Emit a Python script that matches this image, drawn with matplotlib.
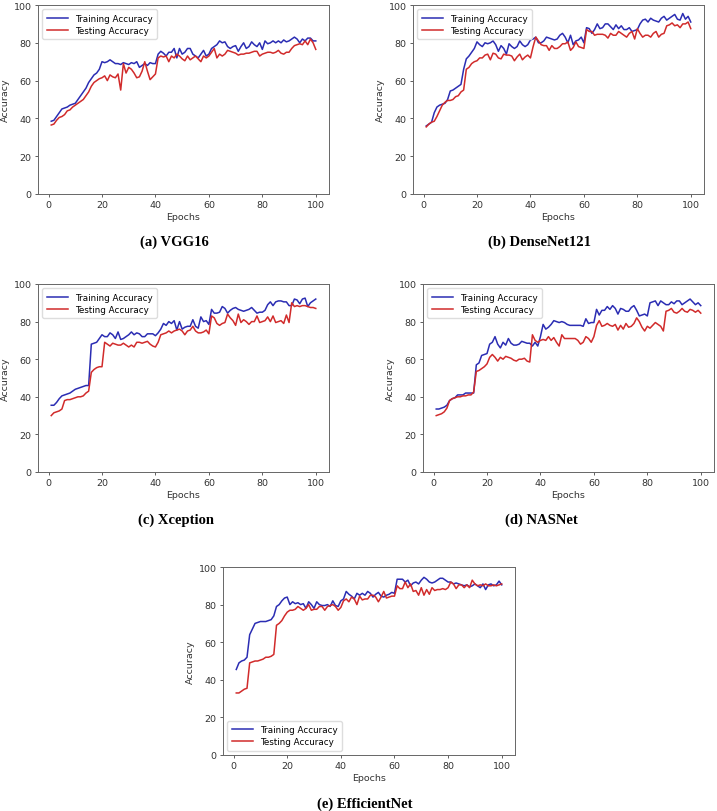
import matplotlib
matplotlib.use("Agg")
import matplotlib.pyplot as plt
import numpy as np

epochs = list(range(1, 101))

vgg_train = [38.5,39,41,43,45,45.5,46,47,47.5,48,50,52,54,56,59,61,63,64,66,70,
             69.5,70,71,70,69,69,68.5,69.5,69,68.5,69.5,69,70,67,68,69,68,69.5,69,69,
             74,75.5,74.5,73,75,75,77,72,77,74,75,77,77,74,73,72,74,76,73,74,
             77,78,79,81,80,80.5,78,77,78,78.5,75.5,78,80,77,78,80.5,79,78,80,76.5,
             81,79.5,80,81,80,81,80,81.5,80.5,81,82,83,82,80,82,81,82.5,82.5,81,81]
vgg_test = [36.5,37,39,40.5,41,42,44,44.5,46,47,48,49,50,52,54,57,59,60,61,61.5,
            62.5,60,63,62,61.5,63.5,55,69,64,67,66,64,61.5,62,65,70,65,60.5,62,63.5,
            72,73,72.5,73,70,73,72,74,73,71.5,70.5,73,71,72,73,71.5,70,73,72,73,
            75,77,72,74,73,74,76,75.5,75,74.5,73.5,74,74,74.5,74.5,75,75.5,75.5,73,74,
            74.5,75,75,74.5,75,76,74.5,74,75,75,77,78.5,79,79.5,79,81,79,82,80,76.5]

dense_train = [36,37,38,43,46,47,47.5,48,50,54.5,55,56,57,58,66,71.5,73,75,77,80.5,
               79,78,80,79.5,80,81,79,75.5,78.5,77,74,79.5,78,77,78,81,79,78,79,81.5,
               82,83,80,80,81,83,82.5,82,81.5,82,84,85,83,80,84,79,81,81.5,83,80,
               88,87.5,85,87,90,87.5,88,90,90,88.5,87,89.5,87.5,89,87,87,88,86,86.5,87,
               90,92,92.5,91,93,92,91.5,91,93,94,92,93,94,95,92.5,92,95.5,92.5,94,91]
dense_test = [35.5,37,38,38.5,41,44,47,48.5,49.5,49.5,50,51.5,52,54,55,66,67,69,70,70.5,
              72,72,73.5,74,71,74.5,74,72,71.5,74,73.5,73.5,73,70.5,72.5,74,71,72.5,73.5,72,
              78,83,81,79,78.5,78.5,76,78.5,77,77,78,79.5,79.5,80.5,76,77.5,80.5,78,77.5,77,
              87,86,86,84,84.5,84.5,84.5,84,82.5,85,84,84,86,85,84,83,85,86,82,87.5,
              85,83,84,84,83,85,86,83,84.5,85,89,89.5,90.5,89,89.5,88,90,90,91,87.5]

xcep_train = [35.5,35.5,37,39,40.5,41,41.5,42,43,44,44.5,45,45.5,46,46,68,68.5,69,71,73,
              72,72,74,73,71,74.5,70.5,71,72,73,74.5,73,74,73.5,72,72,73.5,73.5,73.5,72.5,
              74,76,79,78,80,79,80.5,75.5,80,76,77,77.5,77.5,81,77.5,76.5,82.5,80,80.5,78.5,
              86.5,84.5,84.5,85,88,87,84.5,86,87,87.5,86.5,86,85.5,86,86.5,87.5,86,84.5,85,85,
              86,89,90.5,88.5,90.5,91,91,90.5,90.5,88.5,88.5,92,91.5,89.5,92,92.5,88,90,91,92]
xcep_test = [30,31.5,32,32.5,33.5,38,38.5,38.5,39,39.5,40,40,40.5,42,43,53,54.5,55.5,56,56,
             69,68,67,68.5,68,67.5,67.5,68.5,67.5,66.5,67.5,66.5,69,69,68.5,69,69.5,68,67,66.5,
             69,73,73.5,74,75,74,75,75.5,76,75,73,75,75.5,77.5,75,74,74,74.5,75.5,73.5,
             83,82,79,78,79,79.5,84,82,80.5,78,84,79.5,81,80,78.5,80,80,83,79.5,80,
             80.5,82.5,80,83,79.5,80,80.5,79,83.5,79.5,90,88,88.5,88,88.5,88.5,88,87.5,87.5,87]

nas_train = [33.5,33.5,34,34.5,35.5,38,39,39.5,41,41,41,42,42,42,42,57,58,62,62.5,63,
             68,69,72,68,66,69,67.5,71,68.5,67.5,67.5,68,69.5,69,68.5,68.5,67,69,67,72,
             78.5,76,77,78.5,80.5,80,79.5,80,79.5,78.5,78,78,78,78,78,77.5,81.5,79,79.5,79.5,
             86.5,83.5,86,86,88,86.5,88.5,87,84,87,86.5,85.5,85.5,87.5,88.5,86,83,83.5,84,83,
             90,90.5,91,88.5,91,90,89,89,90.5,89.5,91,91,89,90,91,92,90.5,89,90,88.5]
nas_test = [30,30.5,31,32,34,38,39,39.5,40,40,40.5,40.5,41,41,42.5,53.5,54,55,56,57.5,
            61,62.5,61,59,61,60,61.5,61,60.5,59.5,59,60,60,60.5,59,58.5,73,70,69,70,
            70.5,70,72,70,71.5,69,67,73,71,71,71,71,71,70,68,69,72,71,69,72,
            78,80.5,77.5,78,79,78,77.5,78.5,75.5,78,76,79,77,77.5,79,82,80,77,75,77.5,
            76.5,78,79.5,78.5,77.5,75,85.5,86,87,85,84.5,85.5,87,85.5,85,86.5,86,85,86,84.5]

eff_train = [45.5,49,50,50.5,52,64,67,70,70.5,71,71,71,71.5,72,74,79,80,82,83.5,84,
             80,81.5,80.5,81,80,80.5,78,81.5,80,78,81.5,80,79.5,79.5,80,79,82,79.5,79,82,
             83,87,85.5,84.5,83,86,85,86,85,87,86,84,85.5,86.5,84.5,84,85,85.5,86.5,86,
             93.5,93.5,93.5,92,93,90,91.5,92,91,93,94.5,93.5,92,91.5,92,93,94,94,93,92,
             92,91,91.5,91,90.5,90,90.5,89.5,90,91,90,89,91,88,90.5,91,90,90.5,92.5,90.5]
eff_test = [33,33,34,35,35.5,49,49.5,50,50,50.5,51,52,52,52.5,53.5,69,70,71.5,74,76,
            77,77,77.5,79,78,77,78,80,77,77.5,77.5,79,79,77,79,79.5,80,79,77,78.5,
            82,83,81.5,84,83,80,84.5,82.5,83,83,85,85,84,81.5,84,87,83.5,84,84.5,84.5,
            90,88.5,88.5,92,89,91,87,87.5,85,89,85,88,85.5,89,87.5,88,88,88.5,88,89,
            92,91,88.5,90.5,90.5,89,90.5,89,93,91,90,90.5,90,91,90,90,90.5,90,90.5,91]

captions = ["(a) VGG16", "(b) DenseNet121", "(c) Xception", "(d) NASNet", "(e) EfficientNet"]
train_series = [vgg_train, dense_train, xcep_train, nas_train, eff_train]
test_series = [vgg_test, dense_test, xcep_test, nas_test, eff_test]
legend_locs = ["upper left", "upper left", "upper left", "upper left", "lower left"]

W, H = 717, 812
fig = plt.figure(figsize=(W / 100, H / 100), dpi=100)

# axes boxes in pixels: left, top, right, bottom
boxes = [(38, 6, 329, 195), (413, 6, 704, 195),
         (38, 285, 329, 473), (423, 285, 714, 473),
         (223, 568, 515, 756)]
cap_pos = [(174, 242), (540, 242), (176, 520), (541, 520), (365, 804)]

BLUE = "#2b2db3"
RED = "#d12b2b"
FS = 6.8

for i in range(5):
    l, t, r, b = boxes[i]
    ax = fig.add_axes([l / W, 1 - b / H, (r - l) / W, (b - t) / H])
    ax.plot(epochs, train_series[i], color=BLUE, lw=1.1, label="Training Accuracy")
    ax.plot(epochs, test_series[i], color=RED, lw=1.1, label="Testing Accuracy")
    ax.set_ylim(0, 100)
    ax.set_xticks([0, 20, 40, 60, 80, 100])
    ax.set_yticks([0, 20, 40, 60, 80, 100])
    ax.tick_params(labelsize=FS, length=2.5, width=0.6, color="#444444", labelcolor="#333333", pad=2)
    for s in ax.spines.values():
        s.set_color("#666666")
        s.set_linewidth(0.7)
    ax.set_xlabel("Epochs", fontsize=FS, color="#333333", labelpad=2)
    ax.set_ylabel("Accuracy", fontsize=FS, color="#333333", labelpad=3)
    ax.legend(loc=legend_locs[i], fontsize=6.3, handlelength=2.4, borderpad=0.5,
              labelspacing=0.35, framealpha=1, edgecolor="#dddddd", fancybox=True)
    cx, cy = cap_pos[i]
    fig.text(cx / W, 1 - cy / H, captions[i], ha="center", va="center",
             fontsize=10.5, fontweight="bold", family="Liberation Serif")

fig.savefig("out.png", dpi=100)
